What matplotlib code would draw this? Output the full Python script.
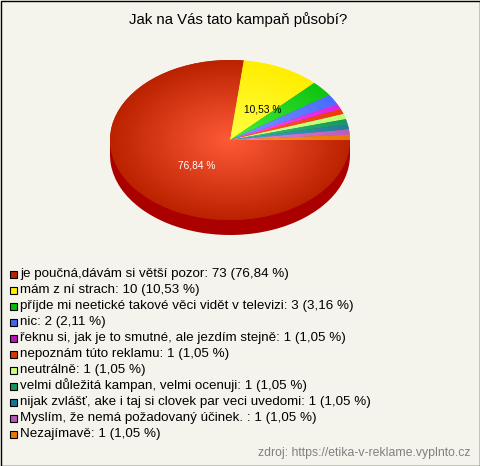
import numpy as np
import matplotlib
matplotlib.use("Agg")
import matplotlib.pyplot as plt
from matplotlib.colors import LinearSegmentedColormap
from matplotlib.patches import Rectangle

plt.rcParams['font.family'] = ['Liberation Sans', 'DejaVu Sans']

W, H = 480, 466
BG = '#f5f4ec'

title = 'Jak na Vás tato kampaň působí?'
source = 'zdroj: https://etika-v-reklame.vyplnto.cz'
categories = ['je poučná,dávám si větší pozor', 'mám z ní strach',
              'příjde mi neetické takové věci vidět v televizi', 'nic',
              'řeknu si, jak je to smutné, ale jezdím stejně', 'nepoznám túto reklamu',
              'neutrálně', 'velmi důležitá kampan, velmi ocenuji',
              'nijak zvlášť, ake i taj si clovek par veci uvedomi',
              'Myslím, že nemá požadovaný účinek. ', 'Nezajímavě']
values = [73, 10, 3, 2, 1, 1, 1, 1, 1, 1, 1]
colors_outer = ['#bb2200', '#ffee00', '#0fc40f', '#4a6cff', '#dd22dd', '#ee3a08',
                '#bcff70', '#149a5c', '#1f7f95', '#bb5cbb', '#ee7700']
colors_inner = ['#ff5a38', '#ffff44', '#44f044', '#7a9aff', '#ff55ff', '#ff6030',
                '#d8ff9a', '#40c088', '#48a8c0', '#e090e0', '#ff9933']
colors_legend = ['#bb2200', '#ffee00', '#00c000', '#4466ee', '#bb11bb', '#dd3300',
                 '#ccff77', '#119955', '#117799', '#bb55bb', '#ee7700']
pct_labels = ['76,84 %', '10,53 %', '3,16 %', '2,11 %', '1,05 %', '1,05 %',
              '1,05 %', '1,05 %', '1,05 %', '1,05 %', '1,05 %']


def box(left, top, right, bottom):
    # pixel box (y from the top) to figure fractions
    return [left / W, 1 - bottom / H, (right - left) / W, (bottom - top) / H]


fig = plt.figure(figsize=(W / 100, H / 100), dpi=100, facecolor=BG)

# page layer in pixels
bg = fig.add_axes([0, 0, 1, 1])
bg.set_xlim(0, W)
bg.set_ylim(H, 0)
bg.axis('off')
bg.add_patch(Rectangle((0.5, 0.5), W - 1, H - 1, fc=BG, ec='black', lw=1.0))

# side of the 3d pie
cx, cy, rx, ry, depth = 230, 140, 120, 80, 15
side = fig.add_axes(box(cx - rx, cy - ry + depth, cx + rx, cy + ry + depth))
side.pie(values, colors=['#aa0000'] * len(values), radius=1, startangle=0, counterclock=False)
side.set_aspect('auto')
side.set_xlim(-1, 1)
side.set_ylim(-1, 1)
side.add_patch(Rectangle((-1, 0), 2, depth / ry, fc='#aa0000', ec='none'))

# top of the pie, each slice with its own radial gradient
top = fig.add_axes(box(cx - rx, cy - ry, cx + rx, cy + ry))
wedges, _ = top.pie(values, colors=colors_outer, radius=1, startangle=0, counterclock=False)
top.set_aspect('auto')
top.set_xlim(-1, 1)
top.set_ylim(-1, 1)

gx, gy = np.meshgrid(np.linspace(-1, 1, 480), np.linspace(-1, 1, 320))
dist = np.clip(np.hypot(gx, gy), 0, 1)
for w, c_in, c_out in zip(wedges, colors_inner, colors_outer):
    cmap = LinearSegmentedColormap.from_list('g', [c_in, c_out])
    im = top.imshow(dist, cmap=cmap, vmin=0, vmax=1, extent=(-1, 1, -1, 1),
                    origin='lower', aspect='auto', zorder=2)
    im.set_clip_path(w)

bg.set_zorder(-1)
top.set_zorder(3)

# labels go on an overlay so they sit above the pie
over = fig.add_axes([0, 0, 1, 1], zorder=5)
over.set_xlim(0, W)
over.set_ylim(H, 0)
over.axis('off')

over.text(238, 20, title, ha='center', va='center', fontsize=10.8, color='black')
over.text(197, 166, pct_labels[0], ha='center', va='center', fontsize=7.3, color='white')
over.text(263, 109, pct_labels[1], ha='center', va='center', fontsize=7.3, color='black')

for i, (name, v, pct, c) in enumerate(zip(categories, values, pct_labels, colors_legend)):
    y = 273.5 + i * 16
    over.add_patch(Rectangle((9.5, y - 3), 7, 7, fc=c, ec='black', lw=0.8))
    over.text(20, y, f'{name}: {v} ({pct})', ha='left', va='center', fontsize=9.65, color='black')

over.text(470, 453, source, ha='right', va='center', fontsize=8.85, color='#808080')

fig.savefig('out.png', dpi=100, facecolor=BG)
